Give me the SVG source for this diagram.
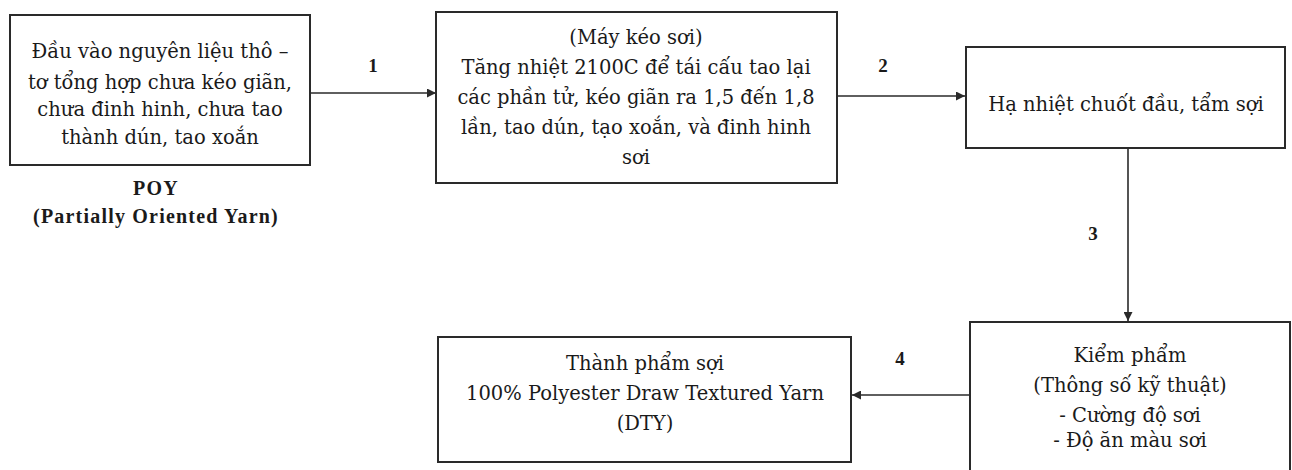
<svg xmlns="http://www.w3.org/2000/svg" width="1292" height="470" viewBox="0 0 1292 470">
<style>
.box{fill:#fff;stroke:#2a2a2a;stroke-width:2}
.t{font-family:"DejaVu Serif","Liberation Serif",serif;font-size:19.5px;fill:#1a1a1a;text-anchor:middle}
.b{font-family:"Liberation Serif","Times New Roman",serif;font-size:19px;font-weight:bold;fill:#1a1a1a;text-anchor:middle}
.cap{font-size:20px;letter-spacing:1.2px}
.c{fill:none;stroke:#2a2a2a;stroke-width:1.6}
</style>
<defs>
<marker id="ah" viewBox="0 0 10 10" refX="10" refY="5" markerWidth="9" markerHeight="9" markerUnits="userSpaceOnUse" orient="auto">
<path d="M0,0 L10,5 L0,10 z" fill="#2a2a2a"/>
</marker>
</defs>
<rect width="1292" height="470" fill="#fff"/>
<g id="connectors">
<line class="c" x1="311" y1="93" x2="436" y2="93" marker-end="url(#ah)"/>
<line class="c" x1="837" y1="96" x2="965" y2="96" marker-end="url(#ah)"/>
<line class="c" x1="1128" y1="149" x2="1128" y2="321" marker-end="url(#ah)"/>
<line class="c" x1="970" y1="395" x2="852" y2="395" marker-end="url(#ah)"/>
<text class="b" x="373" y="72">1</text>
<text class="b" x="883" y="72">2</text>
<text class="b" x="1093" y="240">3</text>
<text class="b" x="900" y="365">4</text>
</g>
<g id="node-poy">
<rect class="box" x="10" y="15" width="300" height="150"/>
<text class="t" x="160" y="58">Đầu vào nguyên liệu thô –</text>
<text class="t" x="160" y="89">tơ tổng hợp chưa kéo giãn,</text>
<text class="t" x="160" y="116">chưa đinh hinh, chưa tao</text>
<text class="t" x="160" y="144">thành dún, tao xoắn</text>
<text class="b cap" x="156" y="195">POY</text>
<text class="b cap" x="156" y="223">(Partially Oriented Yarn)</text>
</g>
<g id="node-may-keo-soi">
<rect class="box" x="436" y="12" width="401" height="171"/>
<text class="t" x="636" y="44">(Máy kéo sơi)</text>
<text class="t" x="636" y="74">Tăng nhiệt 2100C để tái cấu tao lại</text>
<text class="t" x="636" y="104">các phần tử, kéo giãn ra 1,5 đến 1,8</text>
<text class="t" x="636" y="134">lần, tao dún, tạo xoắn, và đinh hinh</text>
<text class="t" x="636" y="164">sơi</text>
</g>
<g id="node-ha-nhiet">
<rect class="box" x="966" y="47" width="319" height="101"/>
<text class="t" x="1126" y="111">Hạ nhiệt chuốt đầu, tẩm sợi</text>
</g>
<g id="node-kiem-pham">
<rect class="box" x="970" y="322" width="320" height="160"/>
<text class="t" x="1130" y="362">Kiểm phẩm</text>
<text class="t" x="1130" y="392">(Thông số kỹ thuật)</text>
<text class="t" x="1130" y="422">- Cường độ sơi</text>
<text class="t" x="1130" y="447">- Độ ăn màu sơi</text>
</g>
<g id="node-thanh-pham">
<rect class="box" x="438" y="337" width="413" height="125"/>
<text class="t" x="645" y="370">Thành phẩm sợi</text>
<text class="t" x="645" y="400">100% Polyester Draw Textured Yarn</text>
<text class="t" x="645" y="430">(DTY)</text>
</g>
</svg>
